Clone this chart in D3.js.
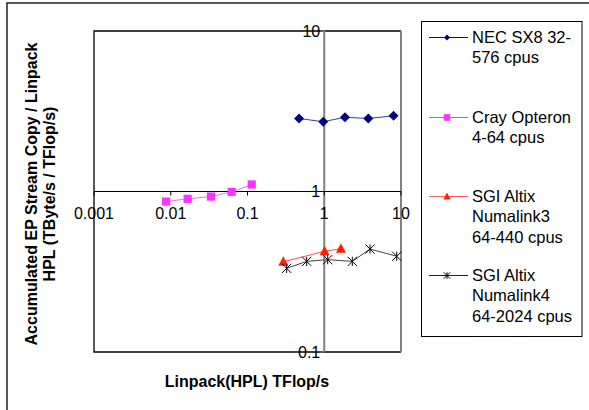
<html>
<head>
<script src="https://d3js.org/d3.v7.min.js"></script>
<style>
  body { margin: 0; background: #fff; }
  text { font-family: Arial, "Liberation Sans", sans-serif; }
</style>
</head>
<body>
<script>
// values (x: HPL TFlop/s, y: ratio)
const necX = [0.47, 0.97, 1.86, 3.75, 8.0];
const necY = [2.85, 2.72, 2.90, 2.85, 2.96];
const crayX = [0.0087, 0.0166, 0.0335, 0.0622, 0.1135];
const crayY = [0.866, 0.90, 0.93, 0.995, 1.106];
const sgi3X = [0.293, 1.01, 1.65];
const sgi3Y = [0.365, 0.424, 0.44];
const sgi4X = [0.324, 0.59, 1.11, 2.32, 3.95, 8.79];
const sgi4Y = [0.332, 0.367, 0.376, 0.367, 0.438, 0.395];
const xTicks = [0.001, 0.01, 0.1, 1, 10];
const yTicks = [0.1, 1, 10];
const xTickLabels = ["0.001", "0.01", "0.1", "1", "10"];
const yTickLabels = ["0.1", "1", "10"];
const seriesNames = [
  ["NEC SX8 32-", "576 cpus"],
  ["Cray Opteron", "4-64 cpus"],
  ["SGI Altix", "Numalink3", "64-440 cpus"],
  ["SGI Altix", "Numalink4", "64-2024 cpus"]
];

const series = [
  {x: necX, y: necY, marker: "diamond", fill: "#000080", line: "#3040a0", legLine: "#0000c0"},
  {x: crayX, y: crayY, marker: "square", fill: "#ff33ff", line: "#ff66ff", legLine: "#ff33ff"},
  {x: sgi3X, y: sgi3Y, marker: "triangle", fill: "#ff2000", line: "#ff5050", legLine: "#ff6060"},
  {x: sgi4X, y: sgi4Y, marker: "star", fill: "#000", line: "#444", legLine: "#3a1a1a"}
];

const svg = d3.select("body").append("svg")
  .attr("width", 589).attr("height", 410);

// outer chart frame
svg.append("rect")
  .attr("x", 7).attr("y", 3).attr("width", 620).attr("height", 430)
  .attr("fill", "none").attr("stroke", "#222").attr("stroke-width", 1.5);

const x = d3.scaleLog().domain([0.001, 10]).range([94, 401]);
const y = d3.scaleLog().domain([0.1, 10]).range([352, 31]);

// plot area border
svg.append("path")
  .attr("d", `M${x(10)},${y(10)}H${x(0.001)}V${y(0.1)}H${x(10)}`)
  .attr("fill", "none").attr("stroke", "#000").attr("stroke-width", 1.3);
svg.append("line")
  .attr("x1", x(10)).attr("x2", x(10)).attr("y1", y(10)).attr("y2", y(0.1))
  .attr("stroke", "#808080").attr("stroke-width", 2);

// vertical axis crossing at x = 1
svg.append("line")
  .attr("x1", x(1)).attr("x2", x(1)).attr("y1", y(10)).attr("y2", y(0.1))
  .attr("stroke", "#808080").attr("stroke-width", 2);
svg.selectAll(".ytick").data(yTicks).enter().append("line")
  .attr("x1", x(1) - 4).attr("x2", x(1))
  .attr("y1", d => y(d)).attr("y2", d => y(d))
  .attr("stroke", "#808080").attr("stroke-width", 1);
svg.selectAll(".ylab").data(yTicks).enter().append("text")
  .attr("x", x(1) - 4).attr("y", d => y(d))
  .attr("dy", "0.36em").attr("text-anchor", "end")
  .attr("font-size", 16)
  .text((d, i) => yTickLabels[i]);

// horizontal axis crossing at y = 1
svg.append("line")
  .attr("x1", x(0.001)).attr("x2", x(10)).attr("y1", y(1)).attr("y2", y(1))
  .attr("stroke", "#000").attr("stroke-width", 1.2);
svg.selectAll(".xtick").data(xTicks).enter().append("line")
  .attr("x1", d => x(d)).attr("x2", d => x(d))
  .attr("y1", y(1)).attr("y2", y(1) + 4)
  .attr("stroke", "#000").attr("stroke-width", 1);
svg.selectAll(".xlab").data(xTicks).enter().append("text")
  .attr("x", d => x(d)).attr("y", y(1) + 27)
  .attr("text-anchor", "middle")
  .attr("font-size", 16)
  .text((d, i) => xTickLabels[i]);

function marker(g, type, s, fill) {
  if (type === "diamond") {
    g.append("path").attr("d", `M0,${-s}L${s},0L0,${s}L${-s},0Z`).attr("fill", fill);
  } else if (type === "square") {
    g.append("rect").attr("x", -s).attr("y", -s).attr("width", 2 * s).attr("height", 2 * s).attr("fill", fill);
  } else if (type === "triangle") {
    g.append("path").attr("d", `M0,${-s * 1.1}L${s},${s * 0.8}L${-s},${s * 0.8}Z`).attr("fill", fill);
  } else {
    g.append("path")
      .attr("d", `M0,${-s}V${s}M${-s},${-s}L${s},${s}M${s},${-s}L${-s},${s}`)
      .attr("stroke", fill).attr("stroke-width", 1).attr("fill", "none");
  }
}

const line = d3.line().x(d => x(d[0])).y(d => y(d[1]));
const sizes = [5, 4.1, 5, 4.6];

series.forEach((s, k) => {
  const pts = s.x.map((v, i) => [v, s.y[i]]);
  svg.append("path").datum(pts)
    .attr("d", line).attr("fill", "none")
    .attr("stroke", s.line).attr("stroke-width", 1);
  pts.forEach(p => {
    const g = svg.append("g").attr("transform", `translate(${x(p[0])},${y(p[1])})`);
    marker(g, s.marker, sizes[k], s.fill);
  });
});

// axis titles
svg.append("text")
  .attr("x", 247).attr("y", 387)
  .attr("text-anchor", "middle").attr("font-weight", "bold").attr("font-size", 16)
  .text("Linpack(HPL) TFlop/s");
const yt = svg.append("text")
  .attr("transform", "translate(0,194) rotate(-90)")
  .attr("text-anchor", "middle").attr("font-weight", "bold").attr("font-size", 16);
yt.append("tspan").attr("x", 0).attr("y", 37).text("Accumulated EP Stream Copy / Linpack");
yt.append("tspan").attr("x", 0).attr("y", 55).text("HPL (TByte/s / TFlop/s)");

// legend
svg.append("rect")
  .attr("x", 421.5).attr("y", 21.5).attr("width", 160.5).attr("height", 315)
  .attr("fill", "#fff").attr("stroke", "#000").attr("stroke-width", 1);
const legY = [37, 117, 196, 275];
const legSizes = [3, 3.3, 3.6, 3.2];
series.forEach((s, k) => {
  const g = svg.append("g").attr("transform", `translate(0,${legY[k]})`);
  g.append("line").attr("x1", 429).attr("x2", 468).attr("y1", 0.5).attr("y2", 0.5)
    .attr("stroke", s.legLine).attr("stroke-width", 1);
  const m = g.append("g").attr("transform", "translate(447,0.5)");
  marker(m, s.marker, legSizes[k], s.fill);
  seriesNames[k].forEach((t, j) => {
    g.append("text").attr("x", 472).attr("y", j * 20.5)
      .attr("dy", "0.36em").attr("font-size", 16.5).text(t);
  });
});
</script>
</body>
</html>
